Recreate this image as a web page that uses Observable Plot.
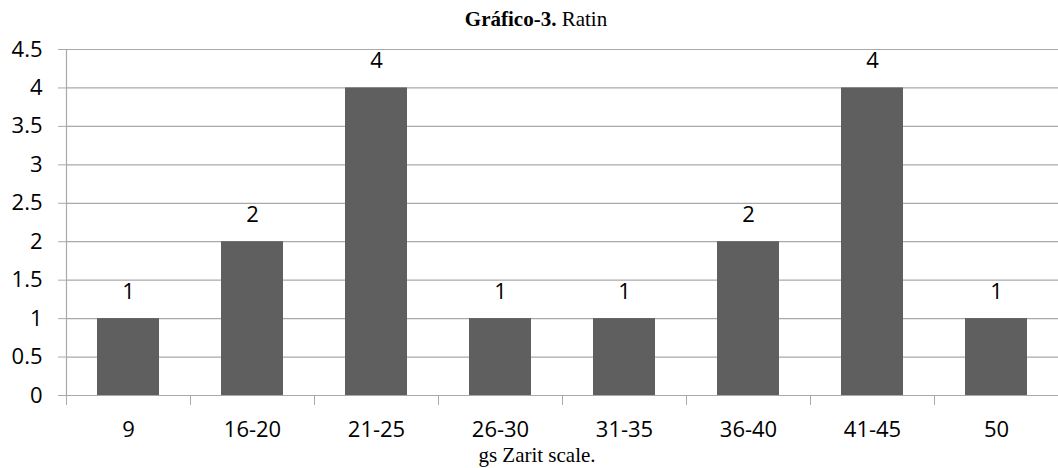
<!DOCTYPE html>
<html><head><meta charset="utf-8">
<script src="https://cdn.jsdelivr.net/npm/d3@7"></script>
<script src="https://cdn.jsdelivr.net/npm/@observablehq/plot@0.6"></script>
<style>
html,body{margin:0;padding:0;background:#fff;}
#wrap{width:1058px;height:468px;overflow:hidden;position:relative;}
.title{box-sizing:border-box;height:32px;padding-top:9px;padding-left:14px;font-family:"Liberation Serif",serif;font-size:21px;line-height:21px;text-align:center;color:#000;white-space:nowrap;}
.cap{box-sizing:border-box;height:23px;padding-left:16px;font-family:"Liberation Serif",serif;font-size:21px;line-height:21px;text-align:center;color:#000;white-space:nowrap;}
#chart svg{display:block;}
</style></head>
<body>
<div id="wrap">
  <div class="title"><b>Gráfico-3.</b> Ratin</div>
  <div id="chart"></div>
  <div class="cap">gs Zarit scale.</div>
</div>
<script>
const categories = ["9", "16-20", "21-25", "26-30", "31-35", "36-40", "41-45", "50"];
const counts = [1, 2, 4, 1, 1, 2, 4, 1];
const yTicks = [0, 0.5, 1, 1.5, 2, 2.5, 3, 3.5, 4, 4.5];

const data = categories.map((c, i) => ({cat: c, n: counts[i]}));

const W = 1058, H = 413, ML = 66, MR = 0, MT = 17, MB = 50;
const step = (W - ML - MR) / categories.length;
const gridColor = "#a9a9a9";

const chart = Plot.plot({
  width: W,
  height: H,
  marginLeft: ML,
  marginRight: MR,
  marginTop: MT,
  marginBottom: MB,
  style: {fontFamily: "'Open Sans', sans-serif", fontSize: "22px", color: "#000", background: "#fff"},
  x: {domain: categories, paddingInner: 0.5, paddingOuter: 0.25, label: null},
  y: {domain: [0, 4.5], label: null},
  marks: [
    Plot.gridY(yTicks, {stroke: gridColor, strokeOpacity: 1, strokeWidth: 1.2}),
    Plot.axisY(yTicks, {tickSize: 8, tickPadding: 16, tickFormat: d => String(d), stroke: gridColor, strokeOpacity: 1, fill: "#000", label: null}),
    Plot.axisX({tickSize: 0, tickPadding: 26, fill: "#000", label: null}),
    Plot.axisX({tickSize: 10, tickFormat: () => "", dx: -step / 2, stroke: gridColor, strokeOpacity: 1, label: null}),
    Plot.frame({anchor: "left", stroke: gridColor, strokeWidth: 1.2}),
    Plot.barY(data, {x: "cat", y: "n", fill: "#5f5f5f"}),
    Plot.text(data, {x: "cat", y: "n", text: d => String(d.n), dy: -27, lineAnchor: "middle", fill: "#000"})
  ]
});
document.getElementById("chart").appendChild(chart);
</script>
</body></html>
